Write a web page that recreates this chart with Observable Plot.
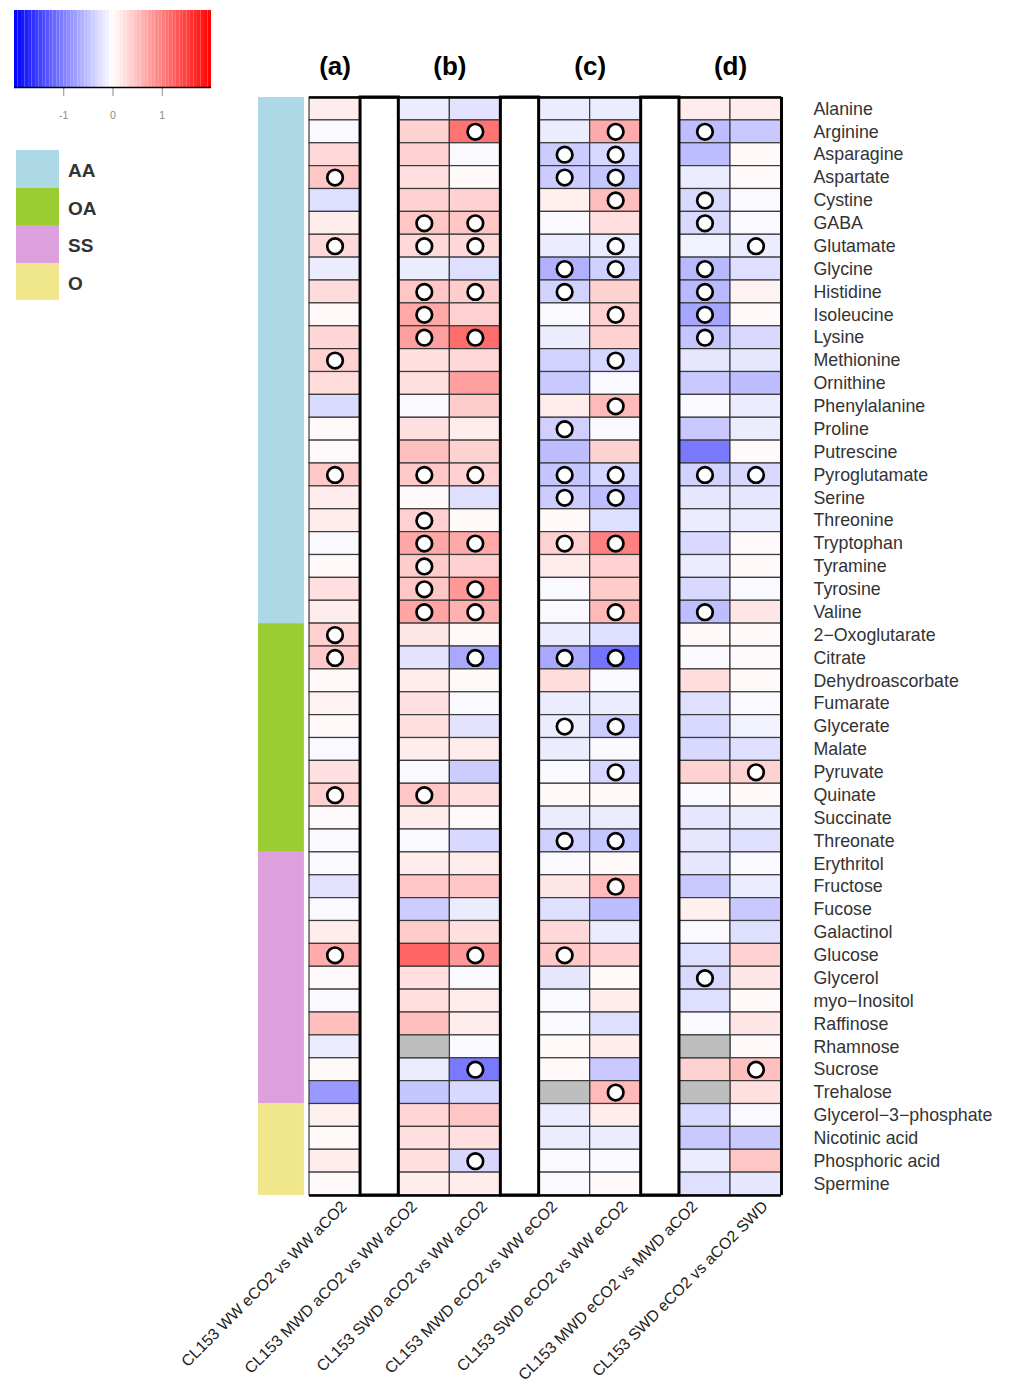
<!DOCTYPE html>
<html><head><meta charset="utf-8">
<script src="https://cdn.jsdelivr.net/npm/d3@7"></script>
<script src="https://cdn.jsdelivr.net/npm/@observablehq/plot@0.6"></script>
<style>
body{margin:0;background:#fff;}
#wrap{position:relative;width:1012px;height:1390px;overflow:hidden;}
#main{position:absolute;left:0;top:0;}
#key{position:absolute;left:0;top:0;}
#legend{position:absolute;left:16px;top:150px;font-family:"Liberation Sans",Arial,sans-serif;}
.lg{display:flex;align-items:center;height:37.5px;}
.sw{width:43px;height:37.5px;}
.lt{margin-left:9px;margin-top:5px;font-weight:bold;font-size:19px;color:#333;}
</style></head>
<body><div id="wrap"><div id="main"></div><div id="key"></div><div id="legend"></div></div>
<script>
// ---------------- data ----------------
const metabolites = ["Alanine","Arginine","Asparagine","Aspartate","Cystine","GABA","Glutamate","Glycine","Histidine","Isoleucine","Lysine","Methionine","Ornithine","Phenylalanine","Proline","Putrescine","Pyroglutamate","Serine","Threonine","Tryptophan","Tyramine","Tyrosine","Valine",
"2\u2212Oxoglutarate","Citrate","Dehydroascorbate","Fumarate","Glycerate","Malate","Pyruvate","Quinate","Succinate","Threonate",
"Erythritol","Fructose","Fucose","Galactinol","Glucose","Glycerol","myo\u2212Inositol","Raffinose","Rhamnose","Sucrose","Trehalose",
"Glycerol\u22123\u2212phosphate","Nicotinic acid","Phosphoric acid","Spermine"];
const metaboliteGroup = ["AA","AA","AA","AA","AA","AA","AA","AA","AA","AA","AA","AA","AA","AA","AA","AA","AA","AA","AA","AA","AA","AA","AA",
"OA","OA","OA","OA","OA","OA","OA","OA","OA","OA",
"SS","SS","SS","SS","SS","SS","SS","SS","SS","SS","SS",
"O","O","O","O"];
const groupNames = ["AA","OA","SS","O"];
const groupColors = ["#ADD8E6","#9ACD32","#DDA0DD","#F0E68C"];
const comparisons = ["CL153 WW eCO2 vs WW aCO2","CL153 MWD aCO2 vs WW aCO2","CL153 SWD aCO2 vs WW aCO2","CL153 MWD eCO2 vs WW eCO2","CL153 SWD eCO2 vs WW eCO2","CL153 MWD eCO2 vs MWD aCO2","CL153 SWD eCO2 vs aCO2 SWD"];
const panels = ["(a)","(b)","(b)","(c)","(c)","(d)","(d)"];
const keyTicks = [-1, 0, 1];

// log fold-change values, one array per comparison (null = missing)
const wwE_vs_wwA   = [0.15,-0.05,0.3,0.45,-0.25,0.15,0.3,-0.15,0.28,0.05,0.32,0.37,0.27,-0.28,0.05,0.05,0.42,0.15,0.15,-0.05,0.05,0.25,0.15,0.37,0.42,0.05,0.1,0.05,-0.05,0.25,0.37,0.05,-0.05,-0.05,-0.22,-0.05,0.15,0.65,0.05,-0.05,0.5,-0.15,0.05,-0.8,0.12,0.05,0.15,0.05];
const mwdA_vs_wwA  = [-0.15,0.35,0.35,0.25,0.35,0.45,0.3,-0.15,0.45,0.68,0.76,0.25,0.25,-0.05,0.25,0.5,0.42,0.05,0.37,0.7,0.4,0.45,0.72,0.2,-0.22,0.15,0.25,0.25,0.15,-0.05,0.45,0.15,-0.05,0.15,0.45,-0.4,0.4,1.2,0.25,0.25,0.5,null,-0.15,-0.45,0.32,0.25,0.25,0.15];
const swdA_vs_wwA  = [-0.22,1.1,-0.05,0.05,0.35,0.45,0.3,-0.25,0.4,0.35,1.15,0.3,0.75,0.4,0.15,0.35,0.37,-0.25,0.05,0.68,0.35,0.8,0.62,0.05,-0.68,0.05,-0.05,-0.22,0.15,-0.4,0.25,0.05,-0.3,0.15,0.45,-0.15,0.25,0.8,-0.05,0.15,0.15,-0.05,-1.05,-0.3,0.45,0.25,-0.32,0.15];
const mwdE_vs_wwE  = [-0.15,-0.15,-0.4,-0.4,0.12,-0.05,-0.15,-0.62,-0.35,-0.05,-0.15,-0.35,-0.42,0.15,-0.37,-0.52,-0.45,-0.4,0.05,0.37,0.15,-0.05,-0.05,-0.15,-0.68,0.27,-0.15,-0.15,-0.15,-0.05,0.05,-0.15,-0.37,-0.05,0.2,-0.25,0.3,0.42,-0.2,-0.05,-0.05,0.05,0.05,null,-0.15,-0.15,-0.05,-0.05];
const swdE_vs_wwE  = [-0.15,0.67,-0.3,-0.45,0.52,0.25,-0.15,-0.37,0.35,0.35,0.35,-0.32,-0.05,0.55,-0.05,0.35,-0.32,-0.52,-0.25,1.0,0.35,0.4,0.55,-0.25,-1.1,-0.05,-0.15,-0.4,-0.05,-0.32,0.05,-0.15,-0.45,0.05,0.55,-0.52,-0.15,0.35,0.05,0.15,-0.25,0.15,-0.42,0.55,0.15,-0.15,-0.05,0.05];
const mwdE_vs_mwdA = [0.15,-0.52,-0.52,-0.15,-0.3,-0.3,-0.1,-0.55,-0.55,-0.7,-0.45,-0.2,-0.42,-0.05,-0.42,-1.05,-0.35,-0.2,-0.15,-0.3,-0.15,-0.3,-0.52,0.05,-0.05,0.27,-0.25,-0.3,-0.3,0.35,-0.05,-0.2,-0.2,-0.2,-0.42,0.12,-0.05,-0.25,-0.3,-0.25,-0.05,null,0.35,null,-0.3,-0.42,-0.15,-0.25];
const swdE_vs_swdA = [0.15,-0.42,0.05,0.05,-0.05,-0.05,-0.15,-0.25,0.1,0.05,-0.3,-0.2,-0.52,-0.15,-0.15,0.05,-0.3,-0.2,-0.15,0.05,0.05,-0.05,0.2,0.05,0.05,0.05,-0.05,-0.1,-0.25,0.35,0.05,-0.15,-0.25,-0.05,-0.15,-0.42,-0.25,0.35,0.2,0.05,0.2,0.05,0.5,0.25,-0.05,-0.42,0.45,-0.2];
const values = [wwE_vs_wwA, mwdA_vs_wwA, swdA_vs_wwA, mwdE_vs_wwE, swdE_vs_wwE, mwdE_vs_mwdA, swdE_vs_swdA];

// significant metabolites, one list per comparison
const significant = [
  ["Aspartate","Glutamate","Methionine","Pyroglutamate","2\u2212Oxoglutarate","Citrate","Quinate","Glucose"],
  ["GABA","Glutamate","Histidine","Isoleucine","Lysine","Pyroglutamate","Threonine","Tryptophan","Tyramine","Tyrosine","Valine","Quinate"],
  ["Arginine","GABA","Glutamate","Histidine","Lysine","Pyroglutamate","Tryptophan","Tyrosine","Valine","Citrate","Glucose","Sucrose","Phosphoric acid"],
  ["Asparagine","Aspartate","Glycine","Histidine","Proline","Pyroglutamate","Serine","Tryptophan","Citrate","Glycerate","Threonate","Glucose"],
  ["Arginine","Asparagine","Aspartate","Cystine","Glutamate","Glycine","Isoleucine","Methionine","Phenylalanine","Pyroglutamate","Serine","Tryptophan","Valine","Citrate","Glycerate","Pyruvate","Threonate","Fructose","Trehalose"],
  ["Arginine","Cystine","GABA","Glycine","Histidine","Isoleucine","Lysine","Pyroglutamate","Valine","Glycerol"],
  ["Glutamate","Pyroglutamate","Pyruvate","Sucrose"]
];

// ---------------- layout (in x-scale units) ----------------
const nRows = metabolites.length;
const cellW = 4, gapW = 3, barW = 3.6, barGap = 0.4;
let pos = 0;
const colX = [], gaps = [];
comparisons.forEach((c, j) => {
  if (j > 0 && panels[j] !== panels[j - 1]) { gaps.push({x1: pos, x2: pos + gapW}); pos += gapW; }
  colX.push({x1: pos, x2: pos + cellW, cx: pos + cellW / 2});
  pos += cellW;
});
const xEnd = pos;

const cells = [];
comparisons.forEach((c, j) => metabolites.forEach((m, i) => {
  cells.push({i, j, m, v: values[j][i], sig: significant[j].includes(m)});
}));
const groupSpans = groupNames.map((g, k) => {
  const idx = metaboliteGroup.map((q, i) => q === g ? i : -1).filter(i => i >= 0);
  return {g, color: groupColors[k], y1: idx[0], y2: idx[idx.length - 1] + 1};
});
const panelHeads = [...new Set(panels)].map(p => {
  const idx = panels.map((q, j) => q === p ? j : -1).filter(j => j >= 0);
  return {p, cx: (colX[idx[0]].x1 + colX[idx[idx.length - 1]].x2) / 2};
});
const labStep = (colX[6].cx - colX[0].cx) / 6;
const labX = i => colX[0].cx + 1 + i * labStep;

const colorScale = {type: "linear", domain: [-2, 0, 2], range: ["#0000ff", "#ffffff", "#ff0000"], interpolate: "rgb", clamp: true};
const font = "'Liberation Sans', Arial, sans-serif";

const main = Plot.plot({
  width: 1012, height: 1390,
  marginLeft: 258, marginRight: 231, marginTop: 97, marginBottom: 195,
  x: {domain: [-(barW + barGap), xEnd], axis: null},
  y: {domain: [0, nRows], reverse: true, axis: null},
  color: colorScale,
  style: {fontFamily: font, background: "#fff", overflow: "visible"},
  marks: [
    Plot.rect(groupSpans, {x1: () => -(barW + barGap), x2: () => -barGap, y1: "y1", y2: "y2", fill: "color"}),
    Plot.rect(cells.filter(d => d.v != null), {x1: d => colX[d.j].x1, x2: d => colX[d.j].x2, y1: "i", y2: d => d.i + 1,
      fill: "v", stroke: "#3a3a3a", strokeWidth: 1.2}),
    Plot.rect(cells.filter(d => d.v == null), {x1: d => colX[d.j].x1, x2: d => colX[d.j].x2, y1: "i", y2: d => d.i + 1,
      fill: "#bebebe", stroke: "#3a3a3a", strokeWidth: 1.2}),
    Plot.rect(gaps, {x1: "x1", x2: "x2", y1: () => 0, y2: () => nRows, fill: "#fff", stroke: "#000", strokeWidth: 3}),
    Plot.ruleY([0, nRows], {x1: () => 0, x2: () => xEnd, stroke: "#000", strokeWidth: 2.5}),
    Plot.ruleX([xEnd], {y1: () => 0, y2: () => nRows, stroke: "#000", strokeWidth: 3}),
    Plot.dot(cells.filter(d => d.sig), {x: d => colX[d.j].cx, y: d => d.i + 0.5, r: 7.8,
      fill: "#fff", stroke: "#000", strokeWidth: 2.7}),
    Plot.text(metabolites, {x: () => xEnd, y: (d, i) => i + 0.5, text: d => d, dx: 32, textAnchor: "start",
      fontSize: 17.8, fill: "#333"}),
    Plot.text(panelHeads, {x: "cx", y: () => 0, text: "p", dy: -31, fontSize: 26, fontWeight: "bold", fill: "#000"}),
    Plot.text(comparisons, {x: (d, i) => labX(i), y: () => nRows, text: d => d, dy: 12, rotate: -45,
      textAnchor: "end", lineAnchor: "bottom", fontSize: 15.8, fill: "#222"})
  ]
});
document.getElementById("main").append(main);

// ---------------- color key ----------------
const keyN = 56, keyStep = 4 / keyN;
const keyCells = d3.range(keyN).map(k => -2 + k * keyStep);
const key = Plot.plot({
  width: 230, height: 130,
  marginLeft: 14, marginRight: 19, marginTop: 10, marginBottom: 43,
  x: {domain: [-2, 2]},
  y: {domain: [0, 1], axis: null},
  color: colorScale,
  style: {fontFamily: font, fontSize: "10px", background: "transparent"},
  marks: [
    Plot.rect(keyCells, {x1: d => d, x2: d => d + keyStep, fill: d => d + keyStep / 2}),
    Plot.axisX(keyTicks, {tickSize: 9, tickPadding: 15, tickFormat: d => String(d), color: "#8a8a8a", fontSize: 10.5}),
    Plot.ruleY([0], {stroke: "#000", strokeWidth: 1.5})
  ]
});
document.getElementById("key").append(key);

// ---------------- group legend ----------------
const legend = document.getElementById("legend");
groupNames.forEach((g, k) => {
  const row = document.createElement("div"); row.className = "lg";
  const sw = document.createElement("div"); sw.className = "sw"; sw.style.background = groupColors[k];
  const t = document.createElement("div"); t.className = "lt"; t.textContent = g;
  row.append(sw, t); legend.append(row);
});
</script>
</body></html>
